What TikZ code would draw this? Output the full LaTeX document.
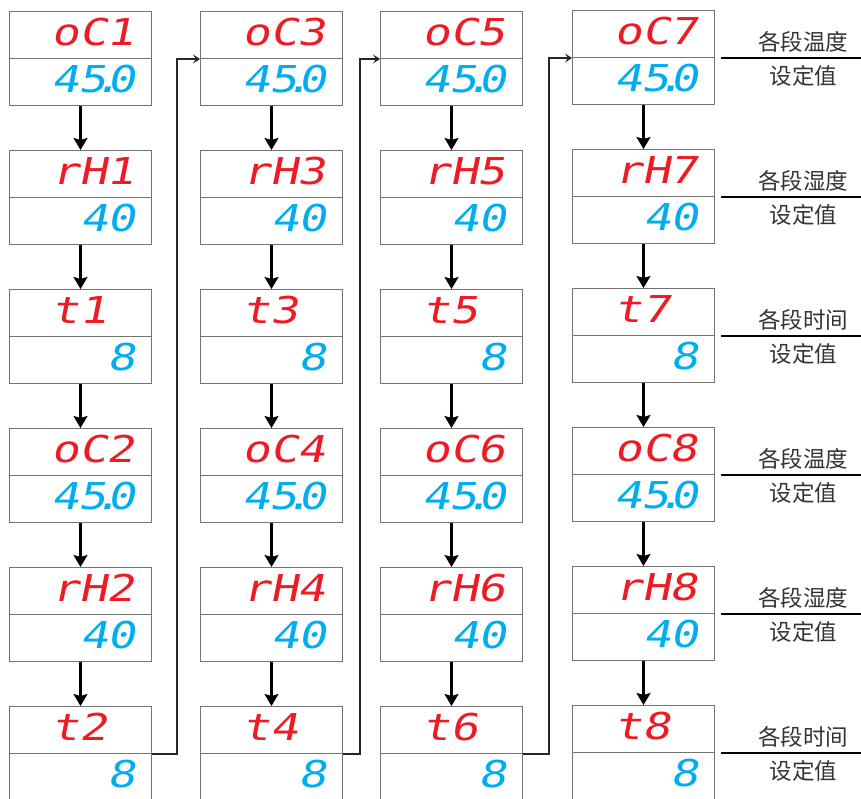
\documentclass[tikz,border=0pt]{standalone}
\usepackage{fontspec}
\usetikzlibrary{arrows.meta}
\newfontfamily\segfont[FakeSlant=0.2,FakeStretch=1.25]{DejaVu Sans Mono}
\newfontfamily\cjk{Noto Sans CJK SC}
\definecolor{segred}{HTML}{ED1C24}
\definecolor{segblue}{HTML}{00AEEF}
\begin{document}
\begin{tikzpicture}[x=1pt,y=-1pt]
  \tikzstyle{every node}=[inner sep=0pt]
  \tikzstyle{half}=[draw=black!55,line width=1pt,minimum width=142pt,minimum height=47pt,anchor=north west]
  \tikzstyle{code}=[anchor=west,text=segred,font=\segfont\fontsize{37}{37}\selectfont]
  \tikzstyle{value}=[anchor=east,text=segblue,font=\segfont\fontsize{37}{37}\selectfont]
  \tikzstyle{note}=[text=black!80,font=\cjk\fontsize{22.5}{22.5}\selectfont]
  \tikzstyle{flow}=[line width=2.2pt,-{Stealth[length=12pt,width=14pt,inset=2pt]}]
  \tikzstyle{jump}=[line width=1.3pt,black!85,-{Stealth[length=7pt,width=9pt,inset=3pt]}]
  \tikzstyle{rule}=[line width=2.4pt]
  \useasboundingbox (0,0) rectangle (861,798);
  \clip (0,0) rectangle (861,798);
  % displays: top half shows the code, bottom half the set value
  \foreach \n/\t/\v/\x/\y in {
      oc1/oC1/45\kern-.36em.\kern-.36em0/9/11, rh1/rH1/40/9/150, t1/t1/8/9/289,
      oc2/oC2/45\kern-.36em.\kern-.36em0/9/428, rh2/rH2/40/9/567, t2/t2/8/9/706,
      oc3/oC3/45\kern-.36em.\kern-.36em0/200/11, rh3/rH3/40/200/150, t3/t3/8/200/289,
      oc4/oC4/45\kern-.36em.\kern-.36em0/200/428, rh4/rH4/40/200/567, t4/t4/8/200/706,
      oc5/oC5/45\kern-.36em.\kern-.36em0/380/11, rh5/rH5/40/380/150, t5/t5/8/380/289,
      oc6/oC6/45\kern-.36em.\kern-.36em0/380/428, rh6/rH6/40/380/567, t6/t6/8/380/706,
      oc7/oC7/45\kern-.36em.\kern-.36em0/572/10, rh7/rH7/40/572/149, t7/t7/8/572/288,
      oc8/oC8/45\kern-.36em.\kern-.36em0/572/427, rh8/rH8/40/572/566, t8/t8/8/572/705} {
    \node [half] (\n) at (\x,\y) {};
    \node [half] (\n-v) at (\x,\y+47) {};
    \node [code] (\n-l) at ([xshift=42pt,yshift=3pt]\n.west) {\t};
    \node [value] (\n-n) at ([xshift=-16pt,yshift=3pt]\n-v.east) {\v};
  }
  \foreach \p/\q in {oc1/rh1, rh1/t1, t1/oc2, oc2/rh2, rh2/t2,
                     oc3/rh3, rh3/t3, t3/oc4, oc4/rh4, rh4/t4,
                     oc5/rh5, rh5/t5, t5/oc6, oc6/rh6, rh6/t6,
                     oc7/rh7, rh7/t7, t7/oc8, oc8/rh8, rh8/t8}
    \draw [flow] (\p-v) -- (\q);
  \draw [jump] (t2.south east) -- ++(25,0) |- (oc3.south west);
  \draw [jump] (t4.south east) -- ++(17,0) |- (oc5.south west);
  \draw [jump] (t6.south east) -- ++(26,0) |- (oc7.south west);
  % notes on the right
  \foreach \n/\s in {oc7/温度, rh7/湿度, t7/时间, oc8/温度, rh8/湿度, t8/时间}
    \draw [rule] ([xshift=6pt]\n.south east) -- ++(142,0)
      node [note,pos=0.58,above=4pt] (\n-a) {各段\s}
      node [note,pos=0.58,below=6pt] (\n-b) {设定值};
\end{tikzpicture}
\end{document}
